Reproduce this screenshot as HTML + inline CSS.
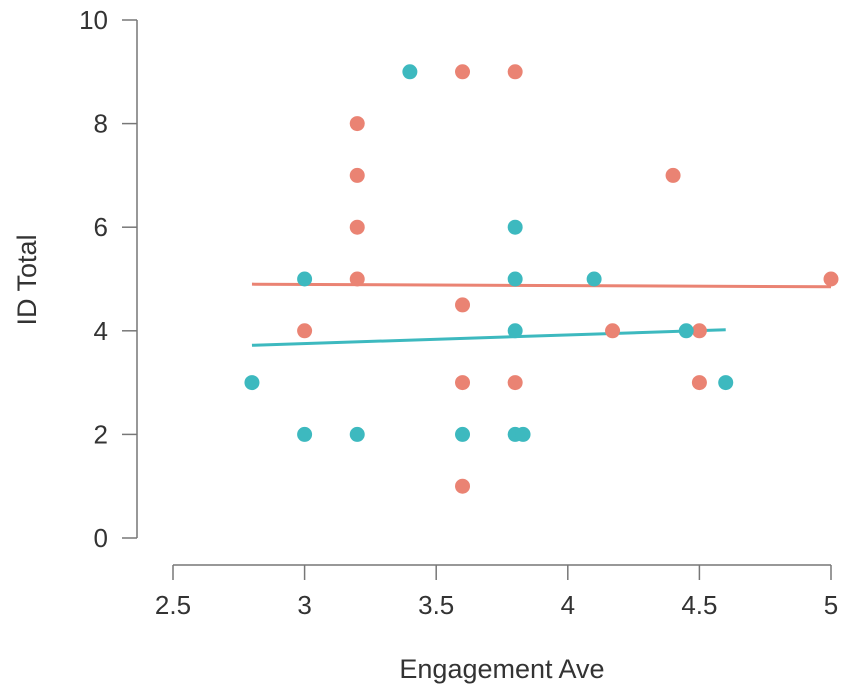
<!DOCTYPE html>
<html><head><meta charset="utf-8"><style>
html,body{margin:0;padding:0;background:#fff;width:851px;height:698px;overflow:hidden}
text{font-family:"Liberation Sans","DejaVu Sans",sans-serif;fill:#333}
</style></head><body>
<svg id="chart" width="851" height="698" viewBox="0 0 851 698"></svg>
<script>
const xTicks=[2.5,3,3.5,4,4.5,5];
const xTickLabels=["2.5","3","3.5","4","4.5","5"];
const yTicks=[0,2,4,6,8,10];
const yTickLabels=["0","2","4","6","8","10"];
const tealX=[3.4,3.8,3,3.8,4.1,3.8,4.45,2.8,4.6,3,3.2,3.6,3.8,3.83];
const tealY=[9,6,5,5,5,4,4,3,3,2,2,2,2,2];
const pinkX=[3.6,3.8,3.2,3.2,4.4,3.2,3.2,5,3.6,3,4.17,4.5,3.6,3.8,4.5,3.6];
const pinkY=[9,9,8,7,7,6,5,5,4.5,4,4,4,3,3,3,1];
const tealLineX=[2.8,4.6];
const tealLineY=[3.72,4.02];
const pinkLineX=[2.8,5];
const pinkLineY=[4.9,4.85];
const TEAL="#3db9bf",PINK="#ea8373";
const sx=v=>173+(v-2.5)*263.2;
const sy=v=>538-v*51.8;
const svg=document.getElementById('chart');
const NS="http://www.w3.org/2000/svg";
function mk(tag,attrs){const e=document.createElementNS(NS,tag);for(const k in attrs)e.setAttribute(k,attrs[k]);svg.appendChild(e);return e;}
let e=mk('line',{x1:137,y1:20,x2:137,y2:538,stroke:'#777','stroke-width':1.5});


e=mk('line',{x1:173,y1:565,x2:831,y2:565,stroke:'#777','stroke-width':1.5});


yTicks.forEach((v,i)=>{
 const t=mk('line',{x1:122,x2:137,y1:sy(v),y2:sy(v),stroke:'#777','stroke-width':1.5});
 
 
 const l=mk('text',{x:108,y:sy(v)+9,'text-anchor':'end','font-size':26});
 l.textContent=yTickLabels[i];
 
 
});
xTicks.forEach((v,i)=>{
 const t=mk('line',{x1:sx(v),x2:sx(v),y1:565,y2:580,stroke:'#777','stroke-width':1.5});
 
 
 const l=mk('text',{x:sx(v),y:614,'text-anchor':'middle','font-size':26});
 l.textContent=xTickLabels[i];
 
 
});
e=mk('text',{x:502,y:678,'text-anchor':'middle','font-size':27});
e.textContent='Engagement Ave';


e=mk('text',{x:0,y:0,'text-anchor':'middle','font-size':27,transform:'translate(36,280) rotate(-90)'});
e.textContent='ID Total';


e=mk('line',{x1:sx(pinkLineX[0]),y1:sy(pinkLineY[0]),x2:sx(pinkLineX[1]),y2:sy(pinkLineY[1]),stroke:PINK,'stroke-width':3});


e=mk('line',{x1:sx(tealLineX[0]),y1:sy(tealLineY[0]),x2:sx(tealLineX[1]),y2:sy(tealLineY[1]),stroke:TEAL,'stroke-width':3});


pinkX.forEach((x,i)=>{
 const c=mk('circle',{cx:sx(x),cy:sy(pinkY[i]),r:7.5,fill:PINK});
 
 
});
tealX.forEach((x,i)=>{
 const c=mk('circle',{cx:sx(x),cy:sy(tealY[i]),r:7.5,fill:TEAL});
 
 
});
</script>
</body></html>
